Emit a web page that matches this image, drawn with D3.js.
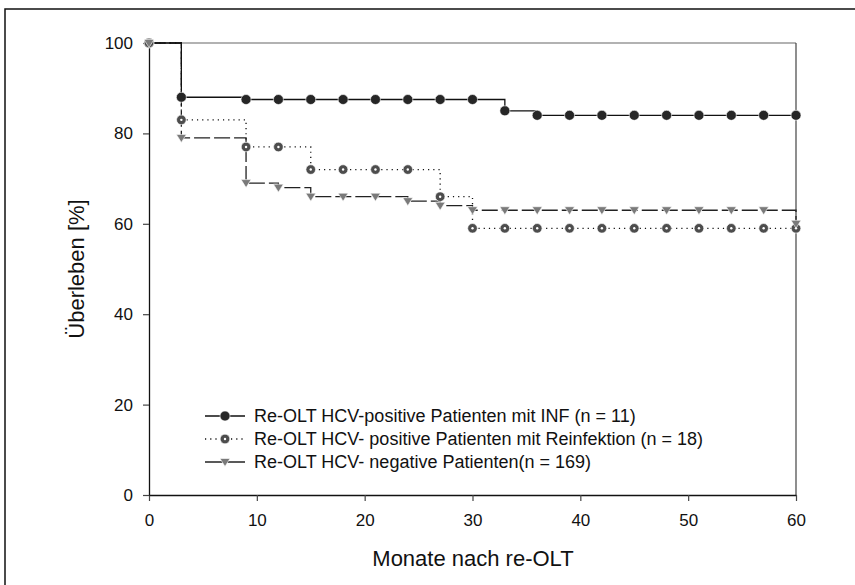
<!DOCTYPE html>
<html><head><meta charset="utf-8">
<script src="https://cdn.jsdelivr.net/npm/d3@7"></script>
<style>
body{margin:0;background:#fff;}
svg{display:block;font-family:"Liberation Sans",Arial,sans-serif;}
</style></head>
<body><svg id="c" width="855" height="585"></svg>
<script>
const months = [0,3,9,12,15,18,21,24,27,30,33,36,39,42,45,48,51,54,57,60];
const inf = [100,88,87.5,87.5,87.5,87.5,87.5,87.5,87.5,87.5,85,84,84,84,84,84,84,84,84,84];
const reinf = [100,83,77,77,72,72,72,72,66,59,59,59,59,59,59,59,59,59,59,59];
const neg = [100,79,69,68,66,66,66,65,64,63,63,63,63,63,63,63,63,63,63,60];
const seriesNames = ["Re-OLT HCV-positive Patienten mit INF (n = 11)",
  "Re-OLT HCV- positive Patienten mit Reinfektion (n = 18)",
  "Re-OLT HCV- negative Patienten(n = 169)"];
const xTicks = [0,10,20,30,40,50,60];
const yTicks = [0,20,40,60,80,100];
const xTitle = "Monate nach re-OLT";
const yTitle = "Überleben [%]";

const svg = d3.select("#c");
const L=149,R=796,T=43,B=495;
const x = d3.scaleLinear().domain([0,60]).range([L,R]);
const y = d3.scaleLinear().domain([0,100]).range([B,T]);

// outer frame (cropped)
svg.append("rect").attr("x",5).attr("y",9).attr("width",900).attr("height",700)
  .attr("fill","none").attr("stroke","#111").attr("stroke-width",1.5);

// plot frame top & right
svg.append("line").attr("x1",L).attr("x2",R).attr("y1",T).attr("y2",T).attr("stroke","#666").attr("stroke-width",1.2);
svg.append("line").attr("x1",R).attr("x2",R).attr("y1",T).attr("y2",B).attr("stroke","#444").attr("stroke-width",1.2);

const xAxis = svg.append("g").attr("transform",`translate(0,${B})`)
  .call(d3.axisBottom(x).tickValues(xTicks).tickSize(6).tickPadding(13).tickSizeOuter(0));
const yAxis = svg.append("g").attr("transform",`translate(${L},0)`)
  .call(d3.axisLeft(y).tickValues(yTicks).tickSize(6).tickPadding(10).tickSizeOuter(0));
[xAxis,yAxis].forEach(g=>{
  g.selectAll("path").attr("stroke","#111").attr("stroke-width",1.3);
  g.selectAll("line").attr("stroke","#444").attr("stroke-width",1.2);
  g.selectAll("text").attr("fill","#111").style("font-size","17px").style("font-family",'"Liberation Sans",Arial,sans-serif');
});

svg.append("text").attr("x",473).attr("y",566).attr("text-anchor","middle")
  .style("font-size","22px").attr("fill","#111").text(xTitle);
svg.append("text").attr("transform",`translate(84,${(T+B)/2}) rotate(-90)`).attr("text-anchor","middle")
  .style("font-size","22px").attr("fill","#111").text(yTitle);

const styles = [
  {vals:inf, dash:null, lc:"#111", lw:1.3, marker:"dot", fill:"#262626"},
  {vals:reinf, dash:"1.2,4", lc:"#111", lw:1.3, marker:"ring", fill:"#4d4d4d"},
  {vals:neg, dash:"16,4", lc:"#222", lw:1.3, marker:"tri", fill:"#7a7a7a"}
];
const line = d3.line().x(d=>x(d[0])).y(d=>y(d[1])).curve(d3.curveStepAfter);

function drawMarker(g, type, fill, cx, cy){
  if(type==="dot"){
    g.append("circle").attr("cx",cx).attr("cy",cy).attr("r",5).attr("fill",fill).attr("stroke","#fff").attr("stroke-width",0.6);
  } else if(type==="ring"){
    g.append("circle").attr("cx",cx).attr("cy",cy).attr("r",4.8).attr("fill",fill).attr("stroke","#fff").attr("stroke-width",0.6);
    g.append("circle").attr("cx",cx).attr("cy",cy).attr("r",1.2).attr("fill","#fff");
  } else {
    const s=5;
    g.append("path").attr("d",`M${cx-s},${cy-3.5}L${cx+s},${cy-3.5}L${cx},${cy+4.5}Z`)
      .attr("fill",fill).attr("stroke","#fff").attr("stroke-width",0.6);
  }
}

styles.slice().reverse().forEach(s=>{
  const pts = months.map((m,i)=>[m,s.vals[i]]);
  svg.append("path").attr("d",line(pts)).attr("fill","none").attr("stroke",s.lc)
    .attr("stroke-width",s.lw).attr("stroke-dasharray",s.dash);
});
const mg = svg.append("g");
styles.forEach(s=>{
  months.forEach((m,i)=>{
    drawMarker(mg, s.marker, s.fill, x(m), y(s.vals[i]));
  });
});

// legend
const legY=[416,439,462];
styles.forEach((s,i)=>{
  const g=svg.append("g");
  g.append("line").attr("x1",205).attr("x2",245).attr("y1",legY[i]).attr("y2",legY[i])
    .attr("stroke",s.lc).attr("stroke-width",1.3).attr("stroke-dasharray", s.marker==="ring"?"1.2,4":null);
  drawMarker(g, s.marker, s.fill, 225, legY[i]);
  g.append("text").attr("x",254).attr("y",legY[i]).attr("dy","0.35em")
    .style("font-size","18px").attr("fill","#111").text(seriesNames[i]);
});
</script></body></html>
